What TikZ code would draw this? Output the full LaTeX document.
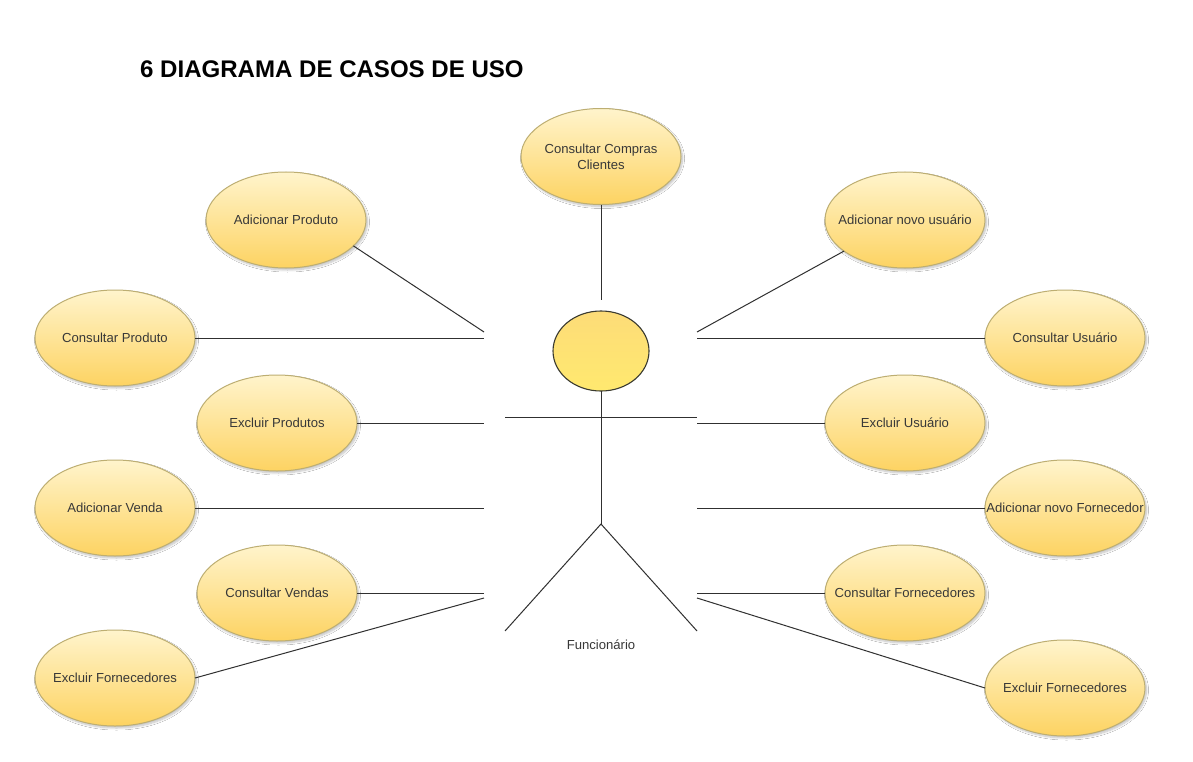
\documentclass[tikz,border=0pt]{standalone}
\usepackage{fontspec}
\setmainfont{Liberation Sans}
\usetikzlibrary{shapes.geometric,shadows.blur}
\definecolor{uctop}{HTML}{FFF4CC}
\definecolor{ucmid}{HTML}{FFE9A6}
\definecolor{ucbot}{HTML}{FDD362}
\definecolor{ucedge}{HTML}{BDAE72}
\definecolor{lnc}{HTML}{303030}
\definecolor{headtop}{HTML}{FDDC78}
\definecolor{headbot}{HTML}{FFE96F}
\definecolor{headedge}{HTML}{3A3A30}
\newcommand{\lbl}[1]{\makebox[0pt][c]{#1}}
\tikzset{
  usecase/.style={ellipse,draw=ucedge,line width=1pt,top color=uctop,middle color=ucmid,bottom color=ucbot,
    minimum width=160pt,minimum height=96pt,inner sep=0pt,outer sep=0pt,align=center,
    font=\fontsize{13.1}{16}\selectfont,text=black!78,
    blur shadow={shadow xshift=1.5pt,shadow yshift=-2pt,shadow blur steps=8,shadow blur radius=2pt,shadow opacity=25}},
  link/.style={draw=lnc,line width=1pt},
  actorline/.style={draw=lnc,line width=1pt},
  actorhead/.style={ellipse,draw=headedge,line width=1.1pt,top color=headtop,bottom color=headbot,minimum width=96pt,minimum height=80pt,inner sep=0pt,outer sep=0pt},
}
\begin{document}
\begin{tikzpicture}[x=1pt,y=-1pt]
\useasboundingbox[fill=white] (0,0) rectangle (1193,762);
\node[anchor=west,inner sep=0pt,font=\fontsize{24.05}{28}\selectfont\bfseries,text=black] (title) at (140,69) {6 DIAGRAMA DE CASOS DE USO};

\node[usecase] (cc) at (601,156.5) {\lbl{Consultar Compras}\\\lbl{Clientes}};
\node[usecase] (ap) at (286,220) {\lbl{Adicionar Produto}};
\node[usecase] (cp) at (115,338) {\lbl{Consultar Produto}};
\node[usecase] (ep) at (277,423) {\lbl{Excluir Produtos}};
\node[usecase] (av) at (115,508) {\lbl{Adicionar Venda}};
\node[usecase] (cv) at (277,593) {\lbl{Consultar Vendas}};
\node[usecase] (ef) at (115,678) {\lbl{Excluir Fornecedores}};
\node[usecase] (an) at (905,220) {\lbl{Adicionar novo usuário}};
\node[usecase] (cu) at (1065,338) {\lbl{Consultar Usuário}};
\node[usecase] (eu) at (905,423) {\lbl{Excluir Usuário}};
\node[usecase] (af) at (1065,508) {\lbl{Adicionar novo Fornecedor}};
\node[usecase] (cf) at (905,593) {\lbl{Consultar Fornecedores}};
\node[usecase] (eg) at (1065,688) {\lbl{Excluir Fornecedores}};

\node[actorhead] (head) at (601,351) {};
\coordinate (top) at (601,300);
\coordinate (armL) at (505,417);
\coordinate (armR) at (697,417);
\coordinate (hip) at (601,524);
\coordinate (legL) at (505,631);
\coordinate (legR) at (697,631);
\node[font=\fontsize{13.1}{14}\selectfont,text=black!78] (name) at (601,645) {Funcionário};

\draw[actorline] (head) -- (hip);
\draw[actorline] (armL) -- (armR);
\draw[actorline] (legL) -- (hip) -- (legR);

\coordinate (l1) at (484,332);
\coordinate (l2) at (484,338);
\coordinate (l3) at (484,423);
\coordinate (l4) at (484,508);
\coordinate (l5) at (484,593);
\coordinate (l6) at (484,598);
\coordinate (r1) at (697,332);
\coordinate (r2) at (697,338);
\coordinate (r3) at (697,423);
\coordinate (r4) at (697,508);
\coordinate (r5) at (697,593);
\coordinate (r6) at (697,598);

\draw[link] (cc) -- (top);
\draw[link] (ap.-21) -- (l1);
\draw[link] (cp) -- (l2);
\draw[link] (ep) -- (l3);
\draw[link] (av) -- (l4);
\draw[link] (cv) -- (l5);
\draw[link] (ef.east) -- (l6);
\draw[link] (an.207) -- (r1);
\draw[link] (cu) -- (r2);
\draw[link] (eu) -- (r3);
\draw[link] (af) -- (r4);
\draw[link] (cf) -- (r5);
\draw[link] (eg.west) -- (r6);
\end{tikzpicture}
\end{document}
